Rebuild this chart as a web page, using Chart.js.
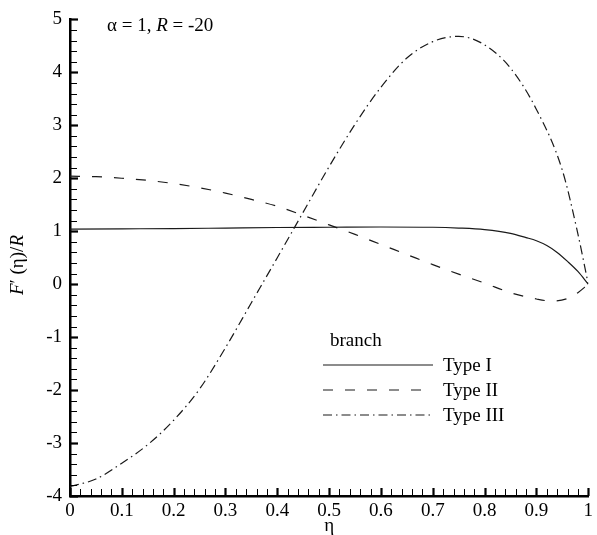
<!DOCTYPE html>
<html>
<head>
<meta charset="utf-8">
<script src="https://cdn.jsdelivr.net/npm/chart.js@4"></script>
<style>
  body { margin: 0; background: #fff; }
  canvas { display: block; }
</style>
</head>
<body>
<canvas id="profile" width="597" height="535"></canvas>
<script>
// values
const etaI = [0, 0.1, 0.2, 0.3, 0.4, 0.5, 0.6, 0.7, 0.75, 0.8, 0.85, 0.88, 0.9, 0.92, 0.94, 0.96, 0.98, 1.0]
const typeI = [1.04, 1.045, 1.05, 1.06, 1.07, 1.075, 1.08, 1.075, 1.06, 1.03, 0.96, 0.88, 0.82, 0.73, 0.6, 0.43, 0.24, 0.0]

const etaII = [0, 0.05, 0.1, 0.15, 0.2, 0.25, 0.3, 0.35, 0.4, 0.45, 0.5, 0.55, 0.6, 0.65, 0.7, 0.75, 0.8, 0.85, 0.9, 0.93, 0.96, 0.98, 1.0]
const typeII = [2.04, 2.03, 2.0, 1.96, 1.9, 1.82, 1.72, 1.6, 1.47, 1.3, 1.12, 0.94, 0.75, 0.56, 0.37, 0.19, 0.02, -0.16, -0.28, -0.32, -0.27, -0.16, 0.0]

const etaIII = [0, 0.05, 0.1, 0.15, 0.2, 0.25, 0.3, 0.35, 0.4, 0.45, 0.5, 0.55, 0.6, 0.65, 0.7, 0.75, 0.8, 0.85, 0.9, 0.95, 0.98, 1.0]
const typeIII = [-3.82, -3.68, -3.38, -3.03, -2.57, -1.98, -1.2, -0.35, 0.5, 1.36, 2.22, 3.02, 3.72, 4.27, 4.58, 4.68, 4.52, 4.08, 3.3, 2.15, 0.95, 0.0]

const seriesNames = ['Type I', 'Type II', 'Type III']
const legendTitle = 'branch'

const serif = '"Liberation Serif", "DejaVu Serif", serif'
const ink = '#1a1a1a'

function points(xs, ys) {
    return xs.map((x, i) => ({ x: x, y: ys[i] }))
}

// inward minor/major ticks on both axes
const innerTicks = {
    id: 'innerTicks',
    afterDraw(chart) {
        const ctx = chart.ctx
        const xs = chart.scales.x
        const ys = chart.scales.y
        const area = chart.chartArea
        ctx.save()
        ctx.strokeStyle = '#000'
        for (let i = 0; i <= 50; i++) {
            const px = Math.round(xs.getPixelForValue(i / 50)) + 0.5
            const major = i % 5 === 0
            ctx.lineWidth = major ? 2.2 : 1
            ctx.beginPath()
            ctx.moveTo(px, area.bottom)
            ctx.lineTo(px, area.bottom - (major ? 8 : 7))
            ctx.stroke()
        }
        for (let i = 0; i <= 45; i++) {
            const py = Math.round(ys.getPixelForValue(-4 + i / 5)) + 0.5
            const major = i % 5 === 0
            ctx.lineWidth = major ? 2.2 : 1
            ctx.beginPath()
            ctx.moveTo(area.left, py)
            ctx.lineTo(area.left + (major ? 8 : 7), py)
            ctx.stroke()
        }
        ctx.restore()
    }
}

// draws runs of [text, italic] left to right
function drawRuns(ctx, runs, x, y, size) {
    let cx = x
    runs.forEach(r => {
        ctx.font = (r[1] ? 'italic ' : '') + size + 'px ' + serif
        ctx.fillText(r[0], cx, y)
        cx += ctx.measureText(r[0]).width
    })
}
function runsWidth(ctx, runs, size) {
    let w = 0
    runs.forEach(r => {
        ctx.font = (r[1] ? 'italic ' : '') + size + 'px ' + serif
        w += ctx.measureText(r[0]).width
    })
    return w
}

const labels = {
    id: 'labels',
    afterDraw(chart) {
        const ctx = chart.ctx
        const area = chart.chartArea
        ctx.save()
        ctx.fillStyle = '#000'
        ctx.textBaseline = 'middle'
        ctx.textAlign = 'left'

        // parameter note
        drawRuns(ctx, [['\u03b1 = 1, ', false], ['R', true], [' = -20', false]], 107, 26, 19)

        // x title
        ctx.font = '19px ' + serif
        ctx.textAlign = 'center'
        ctx.fillText('\u03b7', (area.left + area.right) / 2, 526)

        // y title, rotated
        const yRuns = [['F', true], ['\u2032 (\u03b7)/', false], ['R', true]]
        ctx.textAlign = 'left'
        const w = runsWidth(ctx, yRuns, 19)
        ctx.translate(18, 265)
        ctx.rotate(-Math.PI / 2)
        drawRuns(ctx, yRuns, -w / 2, 0, 19)
        ctx.setTransform(1, 0, 0, 1, 0, 0)

        // legend box
        const x0 = 323, x1 = 433, rowY = [365, 390, 415]
        ctx.font = '19px ' + serif
        ctx.fillText(legendTitle, 330, 341)
        chart.data.datasets.forEach((ds, i) => {
            ctx.strokeStyle = ds.borderColor
            ctx.lineWidth = ds.borderWidth
            ctx.setLineDash(ds.borderDash || [])
            ctx.beginPath()
            ctx.moveTo(x0, rowY[i])
            ctx.lineTo(x1, rowY[i])
            ctx.stroke()
            ctx.setLineDash([])
            ctx.fillText(ds.label, 443, rowY[i] + 1)
        })
        ctx.restore()
    }
}

const data = {
    datasets: [
        {
            label: seriesNames[0],
            data: points(etaI, typeI),
            borderColor: ink,
            borderWidth: 1.2,
            borderDash: []
        },
        {
            label: seriesNames[1],
            data: points(etaII, typeII),
            borderColor: ink,
            borderWidth: 1.2,
            borderDash: [10, 12]
        },
        {
            label: seriesNames[2],
            data: points(etaIII, typeIII),
            borderColor: ink,
            borderWidth: 1.2,
            borderDash: [9, 4, 1.5, 4]
        }
    ]
}

const config = {
    type: 'line',
    data: data,
    options: {
        responsive: false,
        animation: false,
        layout: { padding: { left: 0, right: 4, top: 17, bottom: 0 } },
        elements: {
            point: { radius: 0 },
            line: { cubicInterpolationMode: 'monotone', fill: false }
        },
        plugins: {
            legend: { display: false },
            tooltip: { enabled: false }
        },
        scales: {
            x: {
                type: 'linear',
                min: 0,
                max: 1,
                grid: { display: false, drawTicks: false },
                border: { display: true, color: '#000', width: 2.5 },
                ticks: {
                    stepSize: 0.1,
                    padding: 4,
                    color: '#000',
                    font: { family: serif, size: 19 },
                    maxRotation: 0,
                    callback: v => String(Number(v.toFixed(1)))
                },
                afterFit: s => { s.height = 39 }
            },
            y: {
                min: -4,
                max: 5,
                grid: { display: false, drawTicks: false },
                border: { display: true, color: '#000', width: 2.5 },
                ticks: {
                    stepSize: 1,
                    padding: 8,
                    color: '#000',
                    font: { family: serif, size: 19 }
                },
                afterFit: s => { s.width = 70 }
            }
        }
    },
    plugins: [innerTicks, labels]
}

new Chart(document.getElementById('profile'), config)
</script>
</body>
</html>
